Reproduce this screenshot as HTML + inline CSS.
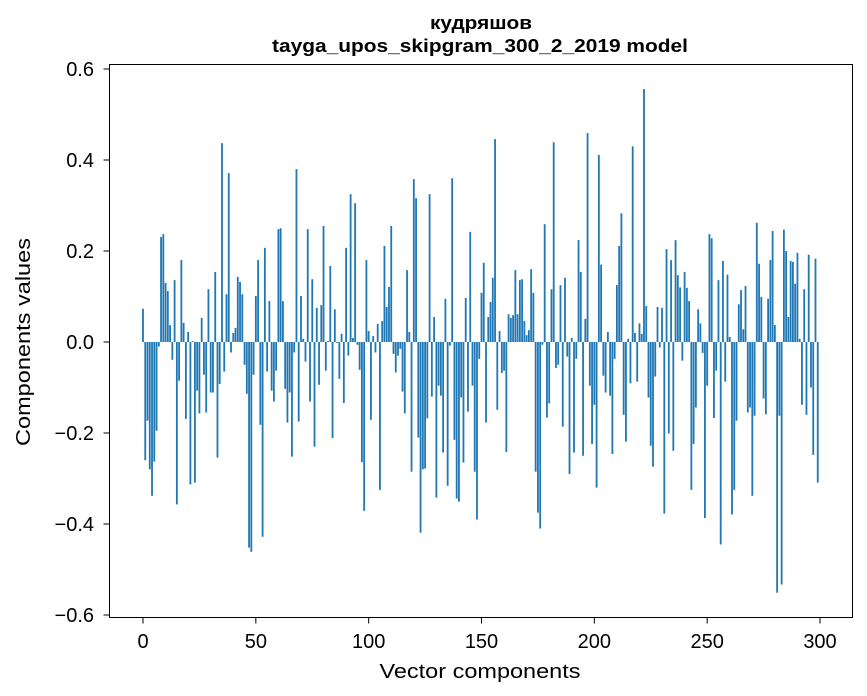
<!DOCTYPE html>
<html><head><meta charset="utf-8">
<style>
body{margin:0;background:#fff;}
svg{display:block;font-family:"Liberation Sans","DejaVu Sans",sans-serif;}
</style></head>
<body>
<svg id="chart" width="867" height="696" viewBox="0 0 867 696">
<rect width="867" height="696" fill="#fff"/>
<text x="481" y="29" text-anchor="middle" font-size="18" font-weight="bold" textLength="102" lengthAdjust="spacingAndGlyphs">кудряшов</text>
<text x="480" y="52" text-anchor="middle" font-size="18" font-weight="bold" textLength="416" lengthAdjust="spacingAndGlyphs">tayga_upos_skipgram_300_2_2019 model</text>
<g id="bars"></g>
<rect x="109.5" y="64.5" width="743" height="553" fill="none" stroke="#000" stroke-width="1"/>
<g id="xticks"></g>
<g id="yticks"></g>
<text x="480" y="678" text-anchor="middle" font-size="20" textLength="201" lengthAdjust="spacingAndGlyphs">Vector components</text>
<text x="0" y="0" transform="translate(30,342) rotate(-90)" text-anchor="middle" font-size="20" textLength="208" lengthAdjust="spacingAndGlyphs">Components values</text>
</svg>
<script>
const values = [
0.073,-0.26,-0.173,-0.28,-0.338,-0.263,-0.195,-0.01,0.231,0.237,
0.13,0.112,0.037,-0.039,0.136,-0.357,-0.085,0.18,0.042,-0.169,
0.022,-0.313,0.002,-0.309,-0.107,-0.157,0.053,-0.072,-0.155,0.116,
-0.111,-0.111,0.154,-0.254,-0.092,0.437,-0.065,0.105,0.371,-0.023,
0.02,0.031,0.143,0.132,0.105,-0.05,-0.114,-0.452,-0.461,-0.072,
0.101,0.18,-0.182,-0.428,0.207,-0.065,0.09,-0.107,-0.131,-0.063,
0.248,0.25,0.09,-0.103,-0.177,-0.111,-0.252,-0.023,0.38,-0.175,
0.101,0.007,-0.043,0.248,-0.131,0.138,-0.23,0.075,-0.094,0.081,
0.255,-0.063,0.002,0.167,-0.211,0.072,-0.002,-0.081,0.018,-0.134,
0.207,-0.03,0.325,0.009,0.305,-0.006,-0.061,-0.264,-0.371,0.18,
0.024,-0.171,0.013,-0.023,0.04,-0.325,0.046,0.211,0.077,0.121,
0.255,-0.026,-0.067,-0.03,-0.015,-0.109,-0.157,0.158,0.022,-0.285,
0.358,0.316,-0.21,-0.419,-0.28,-0.278,-0.168,0.325,-0.12,0.055,
-0.342,-0.096,-0.118,-0.243,0.095,-0.316,-0.008,0.36,-0.215,-0.344,
-0.351,-0.122,-0.265,0.097,-0.153,0.242,-0.096,-0.285,-0.39,-0.037,
0.108,0.174,-0.177,0.055,0.088,0.141,0.446,-0.149,0.024,-0.068,
-0.063,-0.242,0.061,0.053,0.059,0.158,0.061,0.136,0.138,0.046,
0.015,0.026,0.16,0.108,-0.285,-0.375,-0.41,-0.006,0.259,-0.166,
-0.135,0.116,0.439,-0.057,-0.05,0.125,-0.186,0.141,-0.032,-0.29,
0.009,-0.243,-0.037,0.224,0.154,-0.25,0.051,0.459,-0.096,-0.224,
-0.138,-0.32,0.411,0.17,-0.074,-0.111,0.022,-0.118,-0.246,-0.037,
0.125,0.211,0.283,-0.16,-0.219,0.007,-0.091,0.43,0.02,-0.087,
0.041,0.018,0.556,0.079,-0.122,-0.228,-0.274,-0.076,0.077,-0.012,
0.075,-0.377,0.204,-0.201,0.18,-0.239,0.224,0.147,0.12,-0.041,
0.154,0.119,0.09,-0.325,-0.224,-0.144,0.072,0.041,-0.024,-0.387,
-0.096,0.237,0.228,-0.167,-0.063,0.136,-0.445,0.178,-0.087,0.148,
0.011,-0.379,-0.325,-0.173,0.083,0.114,0.028,0.123,-0.155,-0.144,
-0.338,-0.162,0.262,0.172,0.099,-0.124,-0.159,0.095,0.18,0.244,
0.037,-0.551,-0.162,-0.533,0.247,0.2,0.055,0.178,0.176,0.128,
0.196,0.007,-0.138,0.116,-0.16,0.192,-0.1,-0.248,0.183,-0.309
];
const xTickValues = [0,50,100,150,200,250,300];
const xTickLabels = ["0","50","100","150","200","250","300"];
const yTickValues = [-0.6,-0.4,-0.2,0.0,0.2,0.4,0.6];
const yTickLabels = ["\u22120.6","\u22120.4","\u22120.2","0.0","0.2","0.4","0.6"];

const NS = "http://www.w3.org/2000/svg";
const X0 = 143, XK = 677/300;
const Y0 = 342, YK = 455;
function xs(v){ return X0 + v*XK; }
function ys(v){ return Y0 - v*YK; }

const bars = document.getElementById('bars');
values.forEach((v,i)=>{
  const r = document.createElementNS(NS,'rect');
  const w = 0.8*XK;
  r.setAttribute('x', xs(i)-w/2);
  r.setAttribute('width', w);
  r.setAttribute('y', Math.min(ys(v), ys(0)));
  r.setAttribute('height', Math.abs(ys(v)-ys(0)));
  r.setAttribute('fill', '#1f77b4');
  
  
  bars.appendChild(r);
});

const xt = document.getElementById('xticks');
xTickValues.forEach((v,i)=>{
  const l = document.createElementNS(NS,'line');
  l.setAttribute('x1', xs(v)); l.setAttribute('x2', xs(v));
  l.setAttribute('y1', 617.5); l.setAttribute('y2', 623.5);
  l.setAttribute('stroke', '#000');
  
  
  xt.appendChild(l);
  const t = document.createElementNS(NS,'text');
  t.setAttribute('x', xs(v)); t.setAttribute('y', 648);
  t.setAttribute('text-anchor', 'middle'); t.setAttribute('font-size', '20');
  t.textContent = xTickLabels[i];
  
  
  xt.appendChild(t);
});

const yt = document.getElementById('yticks');
yTickValues.forEach((v,i)=>{
  const l = document.createElementNS(NS,'line');
  l.setAttribute('x1', 103.5); l.setAttribute('x2', 109.5);
  l.setAttribute('y1', ys(v)); l.setAttribute('y2', ys(v));
  l.setAttribute('stroke', '#000');
  
  
  yt.appendChild(l);
  const t = document.createElementNS(NS,'text');
  t.setAttribute('x', 94); t.setAttribute('y', ys(v)+7);
  t.setAttribute('text-anchor', 'end'); t.setAttribute('font-size', '20');
  t.textContent = yTickLabels[i];
  
  
  yt.appendChild(t);
});
</script>
</body></html>
